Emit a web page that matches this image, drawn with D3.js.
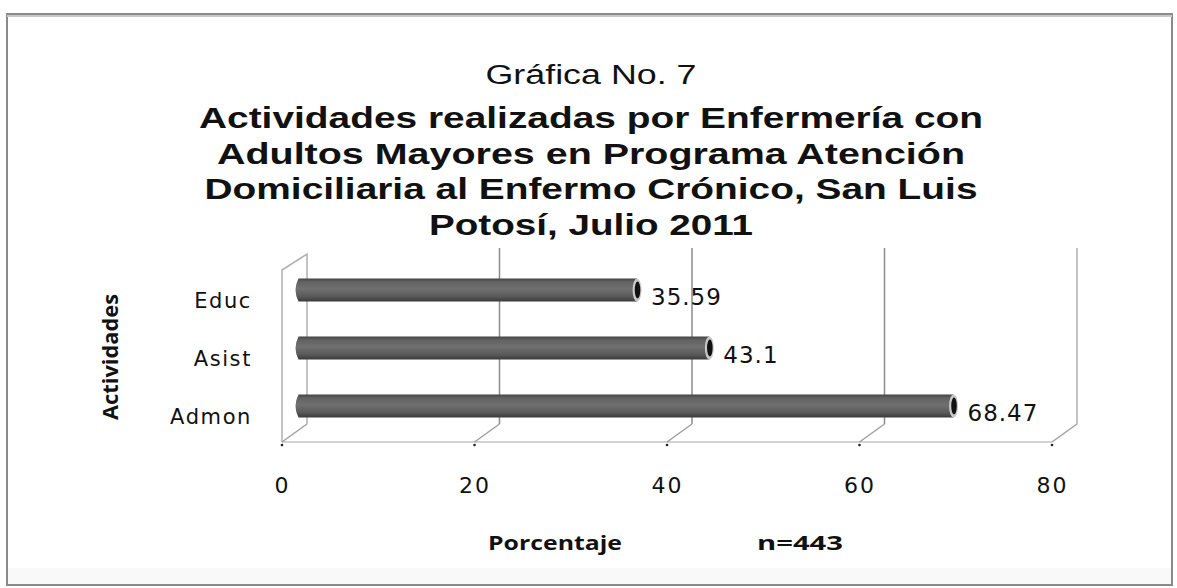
<!DOCTYPE html>
<html>
<head>
<meta charset="utf-8">
<script src="https://cdn.jsdelivr.net/npm/d3@7"></script>
<style>
  html, body { margin: 0; padding: 0; background: #fff; }
  svg { display: block; }
</style>
</head>
<body>
<svg id="chart" width="1177" height="588"></svg>
<script>
// ---- data ----
const categories = ["Educ", "Asist", "Admon"];
const values = [35.59, 43.1, 68.47];
const valueLabels = ["35.59", "43.1", "68.47"];
const xTicks = [0, 20, 40, 60, 80];
const titleTop = "Gráfica No. 7";
const titleLines = [
  "Actividades realizadas por Enfermería con",
  "Adultos Mayores en Programa Atención",
  "Domiciliaria al Enfermo Crónico, San Luis",
  "Potosí, Julio 2011"
];
const yAxisTitle = "Actividades";
const xAxisTitle = "Porcentaje";
const nNote = "n=443";

// ---- layout ----
const svg = d3.select("#chart");
const depthX = 25, depthY = 18;      // 3D depth offset
const floorY = 442;                   // front floor line
const topY = 248;                     // top of back wall

const xFront = d3.scaleLinear().domain([0, 80]).range([282, 1052]);
const xMid = d3.scaleLinear().domain([0, 80]).range([282 + depthX / 2, 1052 + depthX / 2]);
const xBack = d3.scaleLinear().domain([0, 80]).range([282 + depthX, 1052 + depthX]);
const y = d3.scalePoint().domain(categories).range([290, 406]);
const barH = 23;

// frame
svg.append("rect").attr("x", 7).attr("y", 14).attr("width", 1165).attr("height", 571)
  .attr("fill", "#fff").attr("stroke", "#8a8a8a").attr("stroke-width", 2);
svg.append("line").attr("x1", 7).attr("x2", 1172).attr("y1", 16).attr("y2", 16)
  .attr("stroke", "#c8c8c8").attr("stroke-width", 2);
svg.append("rect").attr("x", 8).attr("y", 568).attr("width", 1163).attr("height", 16)
  .attr("fill", "#f9f9f9");

// title (source image is horizontally stretched, so widths are set explicitly)
const titleWidths = [784, 748, 773, 324];
const title = svg.append("g").attr("text-anchor", "middle").attr("fill", "#111");
title.append("text").attr("x", 591).attr("y", 84)
  .attr("font-family", "Liberation Sans, Arial, sans-serif").attr("font-size", 27)
  .attr("textLength", 211).attr("lengthAdjust", "spacingAndGlyphs")
  .text(titleTop);
titleLines.forEach((t, i) => {
  title.append("text").attr("x", 591).attr("y", 128 + i * 35.7)
    .attr("font-family", "Liberation Sans, Arial, sans-serif").attr("font-weight", "bold")
    .attr("font-size", 30).attr("textLength", titleWidths[i]).attr("lengthAdjust", "spacingAndGlyphs")
    .text(t);
});

// 3D grid: back wall lines, floor diagonals
const grid = svg.append("g").attr("fill", "none");
grid.append("path")
  .attr("d", `M${xFront(0)},${floorY} L${xFront(0)},${topY + 22} L${xBack(0)},${topY + 6} L${xBack(0)},${floorY - depthY}`)
  .attr("stroke", "#b0b0b0").attr("stroke-width", 1.5);
grid.append("line").attr("x1", xFront(0)).attr("x2", xFront(80))
  .attr("y1", floorY).attr("y2", floorY).attr("stroke", "#c4c4c4").attr("stroke-width", 1.5);
xTicks.filter(v => v > 0).forEach(v => {
  grid.append("line").attr("x1", xBack(v)).attr("x2", xBack(v))
    .attr("y1", topY).attr("y2", floorY - depthY)
    .attr("stroke", v === 80 ? "#b0b0b0" : "#8c8c8c").attr("stroke-width", 1.5);
});
xTicks.forEach(v => {
  grid.append("line").attr("x1", xFront(v)).attr("x2", xBack(v))
    .attr("y1", floorY).attr("y2", floorY - depthY)
    .attr("stroke", "#a0a0a0").attr("stroke-width", 1.5);
  grid.append("circle").attr("cx", xFront(v)).attr("cy", floorY + 3).attr("r", 1.3).attr("fill", "#222");
});

// cylinder gradient
const defs = svg.append("defs");
const grad = defs.append("linearGradient").attr("id", "cyl").attr("x1", 0).attr("x2", 0).attr("y1", 0).attr("y2", 1);
[["0%", "#444"], ["15%", "#626262"], ["45%", "#707070"], ["78%", "#5a5a5a"], ["100%", "#3a3a3a"]]
  .forEach(([o, c]) => grad.append("stop").attr("offset", o).attr("stop-color", c));

// bars
const bars = svg.append("g");
categories.forEach((c, i) => {
  const cy = y(c);
  const x0 = xMid(0), x1 = xMid(values[i]);
  const r = barH / 2;
  bars.append("path")
    .attr("d", `M${x1},${cy - r} L${x0 + 4},${cy - r} Q${x0 - 2},${cy} ${x0 + 4},${cy + r} L${x1},${cy + r} Z`)
    .attr("fill", "url(#cyl)");
  bars.append("ellipse").attr("cx", x1).attr("cy", cy).attr("rx", 4.5).attr("ry", r)
    .attr("fill", "#c8c8c8");
  bars.append("ellipse").attr("cx", x1 + 0.5).attr("cy", cy).attr("rx", 2.8).attr("ry", r - 3)
    .attr("fill", "#111");
  bars.append("text").attr("x", x1 + 14).attr("y", cy + 15)
    .attr("font-family", "DejaVu Sans, Verdana, sans-serif").attr("font-size", 23)
    .attr("letter-spacing", 1).attr("fill", "#111").text(valueLabels[i]);
  bars.append("text").attr("x", 252).attr("y", cy + 18).attr("text-anchor", "end")
    .attr("font-family", "DejaVu Sans, Verdana, sans-serif").attr("font-size", 21)
    .attr("letter-spacing", 1.6).attr("fill", "#111").text(c);
});

// x tick labels
const xAxis = d3.axisBottom(xFront).tickValues(xTicks).tickSize(0).tickPadding(0);
const xg = svg.append("g").attr("transform", "translate(0,493)").call(xAxis);
xg.select(".domain").remove();
xg.selectAll("text").attr("font-family", "DejaVu Sans, Verdana, sans-serif")
  .attr("font-size", 22).attr("fill", "#111").attr("y", 0).attr("dy", 0).attr("letter-spacing", 2);

// axis titles
svg.append("text").attr("transform", "translate(118,357) rotate(-90)").attr("text-anchor", "middle")
  .attr("font-family", "Open Sans, sans-serif").attr("font-weight", "bold").attr("font-size", 22)
  .attr("textLength", 126).attr("lengthAdjust", "spacingAndGlyphs").attr("fill", "#111").text(yAxisTitle);
svg.append("text").attr("x", 555).attr("y", 550).attr("text-anchor", "middle")
  .attr("font-family", "Open Sans, sans-serif").attr("font-weight", "bold").attr("font-size", 19)
  .attr("textLength", 134).attr("lengthAdjust", "spacingAndGlyphs").attr("fill", "#111").text(xAxisTitle);
svg.append("text").attr("x", 800).attr("y", 550).attr("text-anchor", "middle")
  .attr("font-family", "Open Sans, sans-serif").attr("font-weight", "bold").attr("font-size", 19)
  .attr("textLength", 86).attr("lengthAdjust", "spacingAndGlyphs").attr("fill", "#111").text(nNote);
</script>
</body>
</html>
